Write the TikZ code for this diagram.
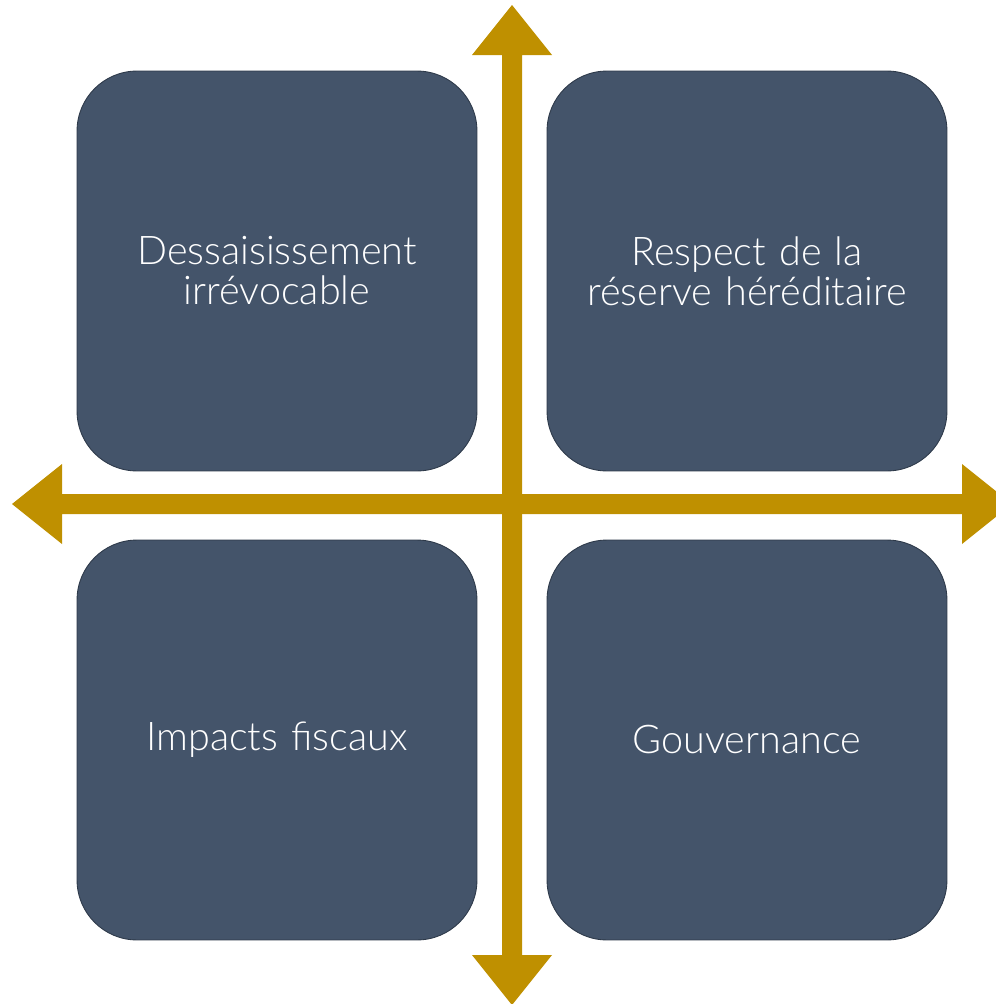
\documentclass[tikz,border=0pt]{standalone}
\usepackage{fontspec}
\setmainfont{Lato Light}
\usepackage{tikz}
\definecolor{slate}{HTML}{44546A}
\definecolor{slateline}{HTML}{2E3A4A}
\definecolor{gold}{HTML}{BF9000}

\begin{document}
\begin{tikzpicture}[x=0.02cm, y=-0.02cm,
        quad/.style={draw=slateline, line width=0.5pt, fill=slate, rounded corners=1.2cm,
            minimum width=8cm, minimum height=8cm, inner sep=0pt, text width=7.8cm,
            align=center, text=white, font=\fontsize{22.5}{22.8}\selectfont}]
        \useasboundingbox (0,0) rectangle (996,1004);
        \clip (0,0) rectangle (996,1004);
        \foreach \n/\x/\y/\t in {dessaisir/277/271/{Dessaisissement\\irrévocable},
                reserve/747/271/{Respect de la\\réserve héréditaire},
                fiscal/277/740/{Impacts fiscaux}, gouv/747/740/{Gouvernance}}{
        \node[quad] (\n) at (\x,\y) {\t};}
        % vertical axis
        \fill[gold] (512,5) -- (552,55) -- (522,55) -- (522,955) -- (552,955) -- (512,1005)
            -- (472,955) -- (502,955) -- (502,55) -- (472,55) -- cycle;
        % horizontal axis
        \fill[gold] (12,504) -- (62,464) -- (62,494) -- (962,494) -- (962,464) -- (1012,504)
            -- (962,544) -- (962,514) -- (62,514) -- (62,544) -- cycle;
    \end{tikzpicture}
\end{document}
